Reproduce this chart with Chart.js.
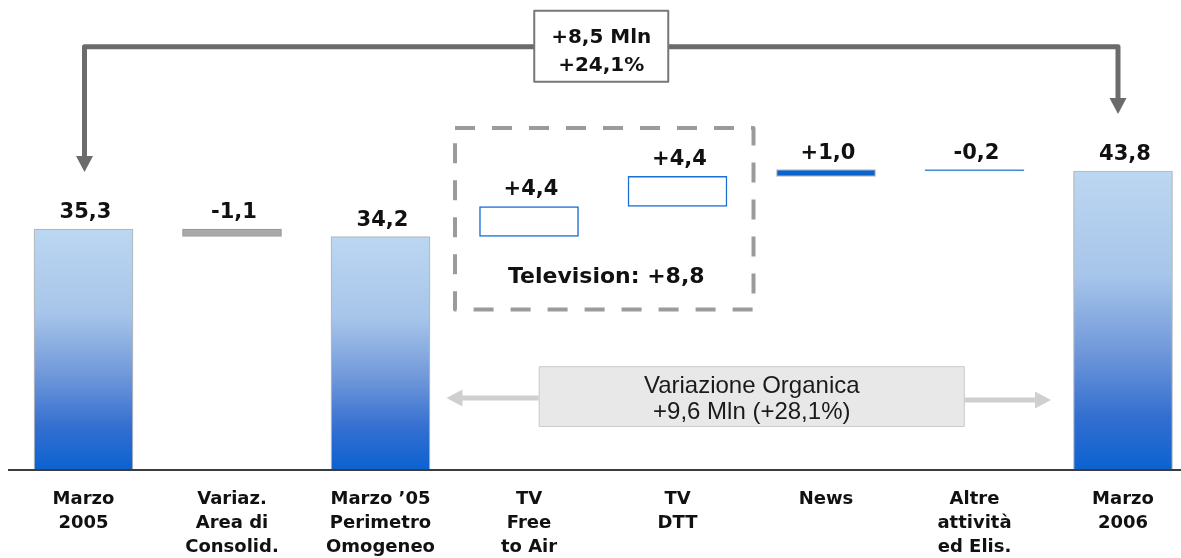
<!DOCTYPE html>
<html>
<head>
<meta charset="utf-8">
<script src="https://cdn.jsdelivr.net/npm/chart.js@4.4.1/dist/chart.umd.min.js"></script>
<style>
  html, body { margin: 0; padding: 0; background: #fff; overflow: hidden; }
  #wrap { position: relative; width: 1181px; height: 558px; }
</style>
</head>
<body>
<div id="wrap"><canvas id="myChart"></canvas></div>
<script>
// chart data
const categories = [
  ["Marzo", "2005"],
  ["Variaz.", "Area di", "Consolid."],
  ["Marzo ’05", "Perimetro", "Omogeneo"],
  ["TV", "Free", "to Air"],
  ["TV", "DTT"],
  ["News"],
  ["Altre", "attività", "ed Elis."],
  ["Marzo", "2006"]
];
const values = [35.3, -1.1, 34.2, 4.4, 4.4, 1.0, -0.2, 43.8];
const isTotal = [true, false, true, false, false, false, false, true];
const televisionIdx = [3, 4];

// waterfall: totals start at 0, changes float on the running total
let running = 0;
const bars = values.map((v, i) => {
  if (isTotal[i]) {
    running = v;
    return [0, v];
  }
  const start = running;
  running = +(running + v).toFixed(1);
  return [start, running];
});

const fmt = (v, sign) => (sign && v > 0 ? "+" : "") + v.toFixed(1).replace(".", ",");

// how each bar looks
const look = ["total", "grey", "total", "outline", "outline", "solid", "line", "total"];

const fillFor = (c) => {
  const i = c.dataIndex;
  const kind = look[i];
  if (kind === "grey") return "#a9a9a9";
  if (kind === "outline") return "#ffffff";
  if (kind === "solid") return "#0b63cd";
  if (kind === "line") return "#1a6fd4";
  const chart = c.chart;
  if (!chart.chartArea) return "#8fb4e6";
  const y = chart.scales.y;
  const top = y.getPixelForValue(bars[i][1]);
  const bot = y.getPixelForValue(0);
  const g = chart.ctx.createLinearGradient(0, top, 0, bot);
  g.addColorStop(0, "#bcd7f1");
  g.addColorStop(0.35, "#a7c5ea");
  g.addColorStop(0.6, "#7199da");
  g.addColorStop(0.82, "#346fd0");
  g.addColorStop(1, "#0b62d0");
  return g;
};
const borderFor = (c) => {
  const kind = look[c.dataIndex];
  if (kind === "grey") return "#9a9a9a";
  if (kind === "outline") return "#1a6fd4";
  if (kind === "line") return "#5b93dc";
  return "#b3b7bb";
};

const arrowHead = (ctx, x, y, dir, len, half) => {
  // dir: "down", "left", "right"
  ctx.beginPath();
  if (dir === "down") {
    ctx.moveTo(x - half, y - len);
    ctx.lineTo(x + half, y - len);
  } else if (dir === "left") {
    ctx.moveTo(x + len, y - half);
    ctx.lineTo(x + len, y + half);
  } else {
    ctx.moveTo(x - len, y - half);
    ctx.lineTo(x - len, y + half);
  }
  ctx.lineTo(x, y);
  ctx.closePath();
  ctx.fill();
};

const annotations = {
  id: "annotations",
  afterDatasetsDraw(chart) {
    const { ctx, scales: { x, y } } = chart;
    const px = (i) => x.getPixelForValue(i);
    const tops = bars.map((b) => y.getPixelForValue(Math.max(b[0], b[1])));
    ctx.save();

    // base line
    ctx.strokeStyle = "#3c3c3c";
    ctx.lineWidth = 2;
    ctx.beginPath();
    ctx.moveTo(8, y.getPixelForValue(0));
    ctx.lineTo(chart.width, y.getPixelForValue(0));
    ctx.stroke();

    // value labels
    ctx.fillStyle = "#111";
    ctx.font = "bold 21px 'DejaVu Sans'";
    ctx.textAlign = "center";
    ctx.textBaseline = "alphabetic";
    values.forEach((v, i) => {
      ctx.fillText(fmt(v, !isTotal[i]), px(i) + 2, tops[i] - 11);
    });

    // overall change arrow
    const first = 0, last = values.length - 1;
    const xl = px(first) + 1, xr = px(last) - 5;
    const lineY = y.getPixelForValue(62);
    const tipL = tops[first] - 57, tipR = tops[last] - 57;
    ctx.strokeStyle = "#6b6b6b";
    ctx.fillStyle = "#6b6b6b";
    ctx.lineWidth = 5;
    ctx.lineJoin = "round";
    ctx.beginPath();
    ctx.moveTo(xl, tipL - 15);
    ctx.lineTo(xl, lineY);
    ctx.lineTo(xr, lineY);
    ctx.lineTo(xr, tipR - 15);
    ctx.stroke();
    arrowHead(ctx, xl, tipL, "down", 16, 8.5);
    arrowHead(ctx, xr, tipR, "down", 16, 8.5);

    const diff = values[last] - values[first];
    const cx = (xl + xr) / 2;
    ctx.fillStyle = "#fff";
    ctx.fillRect(cx - 67, lineY - 36, 134, 71);
    ctx.strokeStyle = "#777";
    ctx.lineWidth = 2;
    ctx.strokeRect(cx - 67, lineY - 36, 134, 71);
    ctx.fillStyle = "#111";
    ctx.font = "bold 20px 'DejaVu Sans'";
    ctx.fillText(fmt(diff, true) + " Mln", cx, lineY - 4);
    ctx.fillText(fmt((diff / values[first]) * 100, true) + "%", cx, lineY + 24);

    // television dashed box
    const tvL = px(televisionIdx[0]) - 74;
    const tvR = px(televisionIdx[1]) + 76;
    const tvT = y.getPixelForValue(50.1);
    const tvB = y.getPixelForValue(23.5);
    ctx.setLineDash([20, 17]);
    ctx.strokeStyle = "#9b9b9b";
    ctx.lineWidth = 4;
    ctx.strokeRect(tvL, tvT, tvR - tvL, tvB - tvT);
    ctx.setLineDash([]);
    const tvSum = televisionIdx.reduce((s, i) => s + values[i], 0);
    ctx.fillStyle = "#111";
    ctx.font = "bold 22px 'DejaVu Sans'";
    ctx.fillText("Television: " + fmt(tvSum, true), (tvL + tvR) / 2 + 2, y.getPixelForValue(27.4));

    // organic change box
    const orgFrom = 2;
    const orgDiff = values[last] - values[orgFrom];
    const oc = (px(3) + px(6)) / 2;
    const oT = y.getPixelForValue(15.2), oB = y.getPixelForValue(6.3);
    const oL = oc - 213, oR = oc + 213;
    ctx.strokeStyle = "#cfcfcf";
    ctx.fillStyle = "#cfcfcf";
    ctx.lineWidth = 5;
    const aLy = y.getPixelForValue(10.55), aRy = y.getPixelForValue(10.25);
    const tipOL = px(orgFrom) + 66, tipOR = px(last) - 72;
    ctx.beginPath();
    ctx.moveTo(oL, aLy);
    ctx.lineTo(tipOL + 14, aLy);
    ctx.moveTo(oR, aRy);
    ctx.lineTo(tipOR - 14, aRy);
    ctx.stroke();
    arrowHead(ctx, tipOL, aLy, "left", 16, 8.5);
    arrowHead(ctx, tipOR, aRy, "right", 16, 8.5);
    ctx.fillStyle = "#e8e8e8";
    ctx.fillRect(oL, oT, oR - oL, oB - oT);
    ctx.strokeStyle = "#cccccc";
    ctx.lineWidth = 1;
    ctx.strokeRect(oL + 0.5, oT + 0.5, oR - oL - 1, oB - oT - 1);
    ctx.fillStyle = "#1a1a1a";
    ctx.font = "24px 'Liberation Sans'";
    ctx.fillText("Variazione Organica", oc, y.getPixelForValue(11.3));
    ctx.fillText(fmt(orgDiff, true) + " Mln (" + fmt((orgDiff / values[orgFrom]) * 100, true) + "%)", oc, y.getPixelForValue(7.4));

    ctx.restore();
  }
};

const myChart = new Chart(document.getElementById("myChart"), {
  type: "bar",
  data: {
    labels: categories,
    datasets: [
      {
        data: bars,
        backgroundColor: fillFor,
        borderColor: borderFor,
        borderWidth: (c) => (look[c.dataIndex] === "outline" ? 1.5 : 1.2),
        borderSkipped: false,
        barThickness: 99,
        clip: false
      }
    ]
  },
  options: {
    responsive: true,
    maintainAspectRatio: false,
    animation: false,
    events: [],
    layout: { padding: { left: 83.5, right: 58, top: 26.25, bottom: 0 } },
    plugins: {
      legend: { display: false },
      tooltip: { enabled: false }
    },
    scales: {
      x: {
        offset: false,
        border: { display: false },
        grid: { display: false, drawTicks: false },
        ticks: {
          color: "#111",
          padding: 17,
          autoSkip: false,
          maxRotation: 0,
          font: { family: "'DejaVu Sans'", size: 18, weight: "bold", lineHeight: "24px" }
        },
        afterFit: (scale) => { scale.height = 88; }
      },
      y: {
        display: false,
        min: 0,
        max: 65
      }
    }
  },
  plugins: [annotations]
});
</script>
</body>
</html>
